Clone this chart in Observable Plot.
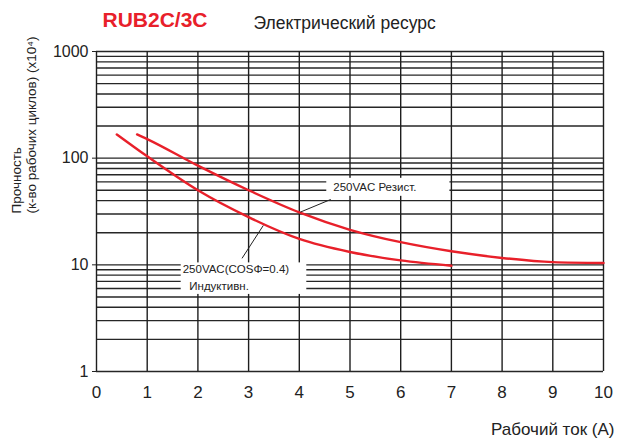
<!DOCTYPE html>
<html>
<head>
<meta charset="utf-8">
<script src="https://cdn.jsdelivr.net/npm/d3@7"></script>
<script src="https://cdn.jsdelivr.net/npm/@observablehq/plot@0.6"></script>
<style>
  html, body { margin: 0; padding: 0; background: #fff; }
  #chart { width: 618px; height: 441px; }
</style>
</head>
<body>
<div id="chart"></div>
<script>
// ---- data ----
const xTicks = [0, 1, 2, 3, 4, 5, 6, 7, 8, 9, 10];
const yTicks = [1, 10, 100, 1000];
const yGrid = [1, 2, 3, 4, 5, 6, 7, 8, 9, 10, 20, 30, 40, 50, 60, 70, 80, 90, 100, 200, 300, 400, 500, 600, 700, 800, 900, 1000];

const resistiveX = [0.8, 1, 2, 3, 4, 5, 6, 7, 8, 9, 10];
const resistiveY = [167, 151, 85, 50, 31, 21.3, 16.3, 13.4, 11.6, 10.6, 10.4];
const inductiveX = [0.4, 1, 2, 3, 4, 5, 6, 7];
const inductiveY = [167, 104, 50, 28, 17.5, 13.2, 11.0, 9.8];

const titleText = "RUB2C/3C";
const subtitleText = "Электрический ресурс";
const xLabel = "Рабочий ток (A)";
const yLabel = "Прочность\n(к-во рабочих циклов) (x10⁴)";

const labels = [
  {text: "250VAC Резист.", x: 4.67, y: 53.5},
  {text: "250VAC(COSΦ=0.4)", x: 1.70, y: 9.0},
  {text: "Индуктивн.", x: 1.83, y: 6.3}
];
const leaders = [
  {x1: 4.62, y1: 41.0, x2: 4.02, y2: 31.2},
  {x1: 2.87, y1: 11.5, x2: 3.29, y2: 23.4}
];

// ---- build tables ----
const resistive = resistiveX.map((x, i) => ({x, y: resistiveY[i]}));
const inductive = inductiveX.map((x, i) => ({x, y: inductiveY[i]}));

const red = "#e8202a";
const font = "'Liberation Sans', Arial, Helvetica, sans-serif";

const chart = Plot.plot({
  width: 618,
  height: 441,
  marginLeft: 96,
  marginRight: 15,
  marginTop: 51,
  marginBottom: 70,
  style: {fontFamily: font, background: "#fff", color: "#222"},
  x: {domain: [0, 10]},
  y: {type: "log", domain: [1, 1000]},
  marks: [
    Plot.ruleY(yGrid, {stroke: "#262626", strokeWidth: 1.4}),
    Plot.ruleX(xTicks, {stroke: "#1e1e1e", strokeWidth: 1.4}),
    Plot.axisX(xTicks, {tickSize: 0, tickPadding: 14, fontSize: 17, label: null, tickFormat: d => String(d)}),
    Plot.axisY(yTicks, {tickSize: 4, tickPadding: 4, fontSize: 16, label: null, tickFormat: d => String(d)}),
    Plot.line(resistive, {x: "x", y: "y", stroke: red, strokeWidth: 2.4, curve: "monotone-x"}),
    Plot.line(inductive, {x: "x", y: "y", stroke: red, strokeWidth: 2.4, curve: "monotone-x"}),
    Plot.link(leaders, {x1: "x1", y1: "y1", x2: "x2", y2: "y2", stroke: "#222", strokeWidth: 1}),
    Plot.text(labels, {x: "x", y: "y", text: "text", textAnchor: "start", lineAnchor: "middle", fontSize: 11.5, fill: "#222"}),
    Plot.text([titleText], {text: d => d, frameAnchor: "top-left", dx: 6, dy: -31, textAnchor: "start", lineAnchor: "middle", fontSize: 21, fontWeight: "bold", fill: red}),
    Plot.text([subtitleText], {text: d => d, frameAnchor: "top-left", dx: 157, dy: -28, textAnchor: "start", lineAnchor: "middle", fontSize: 17.5, fill: "#222"}),
    Plot.text([xLabel], {text: d => d, frameAnchor: "bottom-right", dx: 11, dy: 58, textAnchor: "end", lineAnchor: "middle", fontSize: 17, fill: "#222"}),
    Plot.text([yLabel], {text: d => d, frameAnchor: "left", dx: -72.5, dy: 2, rotate: -90, textAnchor: "start", lineAnchor: "middle", fontSize: 13.5, lineHeight: 1.1, fill: "#222"})
  ]
});

document.getElementById("chart").appendChild(chart);

// white boxes behind the annotation labels (measured from rendered text)
const groups = [
  {texts: ["250VAC Резист."], pad: [7, 33, 3, 3]},
  {texts: ["250VAC(COSΦ=0.4)", "Индуктивн."], pad: [2, 17, 1, 2]}
];
const svgRect = chart.getBoundingClientRect();
const allTexts = Array.from(chart.querySelectorAll("text"));
const rules = chart.querySelectorAll('g[aria-label="rule"]');
const anchor = rules[rules.length - 1];
for (const g of groups) {
  const els = allTexts.filter(t => g.texts.includes(t.textContent));
  if (!els.length) continue;
  let x0 = Infinity, y0 = Infinity, x1 = -Infinity, y1 = -Infinity;
  for (const el of els) {
    const r = el.getBoundingClientRect();
    x0 = Math.min(x0, r.left - svgRect.left);
    y0 = Math.min(y0, r.top - svgRect.top);
    x1 = Math.max(x1, r.right - svgRect.left);
    y1 = Math.max(y1, r.bottom - svgRect.top);
  }
  const rect = document.createElementNS("http://www.w3.org/2000/svg", "rect");
  rect.setAttribute("x", x0 - g.pad[0]);
  rect.setAttribute("y", y0 - g.pad[2]);
  rect.setAttribute("width", (x1 - x0) + g.pad[0] + g.pad[1]);
  rect.setAttribute("height", (y1 - y0) + g.pad[2] + g.pad[3]);
  rect.setAttribute("fill", "#fff");
  anchor.after(rect);
}
</script>
</body>
</html>
